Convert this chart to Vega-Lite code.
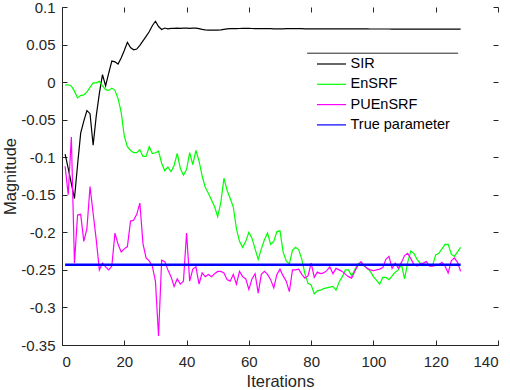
{
  "$schema": "https://vega.github.io/schema/vega-lite/v6.json",
  "width": 436,
  "height": 338,
  "autosize": {"type": "none"},
  "padding": {"left": 62, "top": 7, "right": 12, "bottom": 45},
  "config": {
    "view": {"stroke": null},
    "font": "Liberation Sans",
    "axis": {
      "grid": false,
      "domainColor": "#262626",
      "tickColor": "#262626",
      "tickSize": -5,
      "labelColor": "#262626",
      "labelFontSize": 15,
      "titleFontSize": 16.5,
      "titleFontWeight": "normal",
      "titleColor": "#262626"
    }
  },
  "datasets": {
    "series": [
      {"i":1,"s":"SIR","v":-0.096},{"i":2,"s":"SIR","v":-0.115},{"i":3,"s":"SIR","v":-0.135},{"i":4,"s":"SIR","v":-0.155},{"i":5,"s":"SIR","v":-0.110},
      {"i":6,"s":"SIR","v":-0.068},{"i":7,"s":"SIR","v":-0.052},{"i":8,"s":"SIR","v":-0.038},{"i":9,"s":"SIR","v":-0.042},{"i":10,"s":"SIR","v":-0.084},
      {"i":11,"s":"SIR","v":-0.045},{"i":12,"s":"SIR","v":-0.015},{"i":13,"s":"SIR","v":0.010},{"i":14,"s":"SIR","v":-0.005},{"i":15,"s":"SIR","v":0.012},
      {"i":16,"s":"SIR","v":0.028},{"i":17,"s":"SIR","v":0.027},{"i":18,"s":"SIR","v":0.024},{"i":19,"s":"SIR","v":0.032},{"i":20,"s":"SIR","v":0.042},
      {"i":21,"s":"SIR","v":0.053},{"i":22,"s":"SIR","v":0.046},{"i":23,"s":"SIR","v":0.043},{"i":24,"s":"SIR","v":0.044},{"i":25,"s":"SIR","v":0.049},
      {"i":26,"s":"SIR","v":0.055},{"i":27,"s":"SIR","v":0.061},{"i":28,"s":"SIR","v":0.067},{"i":29,"s":"SIR","v":0.075},{"i":30,"s":"SIR","v":0.081},
      {"i":31,"s":"SIR","v":0.074},{"i":32,"s":"SIR","v":0.070},{"i":33,"s":"SIR","v":0.072},{"i":34,"s":"SIR","v":0.071},{"i":35,"s":"SIR","v":0.0715},
      {"i":36,"s":"SIR","v":0.0715},{"i":37,"s":"SIR","v":0.072},{"i":38,"s":"SIR","v":0.0715},{"i":39,"s":"SIR","v":0.072},{"i":40,"s":"SIR","v":0.072},
      {"i":41,"s":"SIR","v":0.0715},{"i":42,"s":"SIR","v":0.072},{"i":43,"s":"SIR","v":0.0718},{"i":44,"s":"SIR","v":0.0712},{"i":45,"s":"SIR","v":0.0702},
      {"i":46,"s":"SIR","v":0.0695},{"i":47,"s":"SIR","v":0.0692},{"i":48,"s":"SIR","v":0.0692},{"i":49,"s":"SIR","v":0.0692},{"i":50,"s":"SIR","v":0.0693},
      {"i":51,"s":"SIR","v":0.0696},{"i":52,"s":"SIR","v":0.0702},{"i":53,"s":"SIR","v":0.0708},{"i":54,"s":"SIR","v":0.0712},{"i":55,"s":"SIR","v":0.0712},
      {"i":56,"s":"SIR","v":0.0713},{"i":57,"s":"SIR","v":0.0714},{"i":58,"s":"SIR","v":0.0715},{"i":59,"s":"SIR","v":0.0715},{"i":60,"s":"SIR","v":0.0715},
      {"i":61,"s":"SIR","v":0.0714},{"i":62,"s":"SIR","v":0.0713},{"i":63,"s":"SIR","v":0.0712},{"i":64,"s":"SIR","v":0.0712},{"i":65,"s":"SIR","v":0.0711},
      {"i":66,"s":"SIR","v":0.0711},{"i":67,"s":"SIR","v":0.0711},{"i":68,"s":"SIR","v":0.071},{"i":69,"s":"SIR","v":0.071},{"i":70,"s":"SIR","v":0.071},
      {"i":71,"s":"SIR","v":0.071},{"i":72,"s":"SIR","v":0.0711},{"i":73,"s":"SIR","v":0.0712},{"i":74,"s":"SIR","v":0.0712},{"i":75,"s":"SIR","v":0.0712},
      {"i":76,"s":"SIR","v":0.0711},{"i":77,"s":"SIR","v":0.0711},{"i":78,"s":"SIR","v":0.071},{"i":79,"s":"SIR","v":0.071},{"i":80,"s":"SIR","v":0.071},
      {"i":81,"s":"SIR","v":0.071},{"i":82,"s":"SIR","v":0.071},{"i":83,"s":"SIR","v":0.0709},{"i":84,"s":"SIR","v":0.0709},{"i":85,"s":"SIR","v":0.0709},
      {"i":86,"s":"SIR","v":0.0709},{"i":87,"s":"SIR","v":0.071},{"i":88,"s":"SIR","v":0.071},{"i":89,"s":"SIR","v":0.071},{"i":90,"s":"SIR","v":0.071},
      {"i":91,"s":"SIR","v":0.0709},{"i":92,"s":"SIR","v":0.0709},{"i":93,"s":"SIR","v":0.0708},{"i":94,"s":"SIR","v":0.0708},{"i":95,"s":"SIR","v":0.0708},
      {"i":96,"s":"SIR","v":0.0708},{"i":97,"s":"SIR","v":0.0708},{"i":98,"s":"SIR","v":0.0708},{"i":99,"s":"SIR","v":0.0707},{"i":100,"s":"SIR","v":0.0707},
      {"i":101,"s":"SIR","v":0.0707},{"i":102,"s":"SIR","v":0.0707},{"i":103,"s":"SIR","v":0.0707},{"i":104,"s":"SIR","v":0.0707},{"i":105,"s":"SIR","v":0.0707},
      {"i":106,"s":"SIR","v":0.0706},{"i":107,"s":"SIR","v":0.0706},{"i":108,"s":"SIR","v":0.0706},{"i":109,"s":"SIR","v":0.0706},{"i":110,"s":"SIR","v":0.0706},
      {"i":111,"s":"SIR","v":0.0706},{"i":112,"s":"SIR","v":0.0706},{"i":113,"s":"SIR","v":0.0706},{"i":114,"s":"SIR","v":0.0706},{"i":115,"s":"SIR","v":0.0705},
      {"i":116,"s":"SIR","v":0.0705},{"i":117,"s":"SIR","v":0.0705},{"i":118,"s":"SIR","v":0.0705},{"i":119,"s":"SIR","v":0.0705},{"i":120,"s":"SIR","v":0.0705},
      {"i":121,"s":"SIR","v":0.0705},{"i":122,"s":"SIR","v":0.0705},{"i":123,"s":"SIR","v":0.0705},{"i":124,"s":"SIR","v":0.0705},{"i":125,"s":"SIR","v":0.0705},
      {"i":126,"s":"SIR","v":0.0705},{"i":127,"s":"SIR","v":0.0705},{"i":128,"s":"SIR","v":0.0705},

      {"i":1,"s":"EnSRF","v":-0.004},{"i":2,"s":"EnSRF","v":-0.0035},{"i":3,"s":"EnSRF","v":-0.005},{"i":4,"s":"EnSRF","v":-0.012},{"i":5,"s":"EnSRF","v":-0.021},
      {"i":6,"s":"EnSRF","v":-0.018},{"i":7,"s":"EnSRF","v":-0.017},{"i":8,"s":"EnSRF","v":-0.013},{"i":9,"s":"EnSRF","v":-0.007},{"i":10,"s":"EnSRF","v":-0.001},
      {"i":11,"s":"EnSRF","v":-0.001},{"i":12,"s":"EnSRF","v":0.001},{"i":13,"s":"EnSRF","v":-0.005},{"i":14,"s":"EnSRF","v":-0.010},{"i":15,"s":"EnSRF","v":-0.011},
      {"i":16,"s":"EnSRF","v":-0.008},{"i":17,"s":"EnSRF","v":-0.011},{"i":18,"s":"EnSRF","v":-0.022},{"i":19,"s":"EnSRF","v":-0.040},{"i":20,"s":"EnSRF","v":-0.072},
      {"i":21,"s":"EnSRF","v":-0.086},{"i":22,"s":"EnSRF","v":-0.091},{"i":23,"s":"EnSRF","v":-0.094},{"i":24,"s":"EnSRF","v":-0.094},{"i":25,"s":"EnSRF","v":-0.090},
      {"i":26,"s":"EnSRF","v":-0.099},{"i":27,"s":"EnSRF","v":-0.099},{"i":28,"s":"EnSRF","v":-0.086},{"i":29,"s":"EnSRF","v":-0.095},{"i":30,"s":"EnSRF","v":-0.094},
      {"i":31,"s":"EnSRF","v":-0.092},{"i":32,"s":"EnSRF","v":-0.108},{"i":33,"s":"EnSRF","v":-0.118},{"i":34,"s":"EnSRF","v":-0.113},{"i":35,"s":"EnSRF","v":-0.119},
      {"i":36,"s":"EnSRF","v":-0.111},{"i":37,"s":"EnSRF","v":-0.095},{"i":38,"s":"EnSRF","v":-0.115},{"i":39,"s":"EnSRF","v":-0.124},{"i":40,"s":"EnSRF","v":-0.116},
      {"i":41,"s":"EnSRF","v":-0.094},{"i":42,"s":"EnSRF","v":-0.110},{"i":43,"s":"EnSRF","v":-0.091},{"i":44,"s":"EnSRF","v":-0.105},{"i":45,"s":"EnSRF","v":-0.125},
      {"i":46,"s":"EnSRF","v":-0.140},{"i":47,"s":"EnSRF","v":-0.148},{"i":48,"s":"EnSRF","v":-0.157},{"i":49,"s":"EnSRF","v":-0.166},{"i":50,"s":"EnSRF","v":-0.179},
      {"i":51,"s":"EnSRF","v":-0.160},{"i":52,"s":"EnSRF","v":-0.128},{"i":53,"s":"EnSRF","v":-0.144},{"i":54,"s":"EnSRF","v":-0.155},{"i":55,"s":"EnSRF","v":-0.166},
      {"i":56,"s":"EnSRF","v":-0.195},{"i":57,"s":"EnSRF","v":-0.212},{"i":58,"s":"EnSRF","v":-0.220},{"i":59,"s":"EnSRF","v":-0.212},{"i":60,"s":"EnSRF","v":-0.200},
      {"i":61,"s":"EnSRF","v":-0.208},{"i":62,"s":"EnSRF","v":-0.222},{"i":63,"s":"EnSRF","v":-0.236},{"i":64,"s":"EnSRF","v":-0.222},{"i":65,"s":"EnSRF","v":-0.210},
      {"i":66,"s":"EnSRF","v":-0.201},{"i":67,"s":"EnSRF","v":-0.216},{"i":68,"s":"EnSRF","v":-0.212},{"i":69,"s":"EnSRF","v":-0.199},{"i":70,"s":"EnSRF","v":-0.198},
      {"i":71,"s":"EnSRF","v":-0.226},{"i":72,"s":"EnSRF","v":-0.238},{"i":73,"s":"EnSRF","v":-0.242},{"i":74,"s":"EnSRF","v":-0.224},{"i":75,"s":"EnSRF","v":-0.220},
      {"i":76,"s":"EnSRF","v":-0.223},{"i":77,"s":"EnSRF","v":-0.236},{"i":78,"s":"EnSRF","v":-0.255},{"i":79,"s":"EnSRF","v":-0.268},{"i":80,"s":"EnSRF","v":-0.270},
      {"i":81,"s":"EnSRF","v":-0.282},{"i":82,"s":"EnSRF","v":-0.278},{"i":83,"s":"EnSRF","v":-0.277},{"i":84,"s":"EnSRF","v":-0.275},{"i":85,"s":"EnSRF","v":-0.274},
      {"i":86,"s":"EnSRF","v":-0.273},{"i":87,"s":"EnSRF","v":-0.272},{"i":88,"s":"EnSRF","v":-0.277},{"i":89,"s":"EnSRF","v":-0.266},{"i":90,"s":"EnSRF","v":-0.259},
      {"i":91,"s":"EnSRF","v":-0.250},{"i":92,"s":"EnSRF","v":-0.250},{"i":93,"s":"EnSRF","v":-0.258},{"i":94,"s":"EnSRF","v":-0.250},{"i":95,"s":"EnSRF","v":-0.242},
      {"i":96,"s":"EnSRF","v":-0.240},{"i":97,"s":"EnSRF","v":-0.245},{"i":98,"s":"EnSRF","v":-0.248},{"i":99,"s":"EnSRF","v":-0.252},{"i":100,"s":"EnSRF","v":-0.259},
      {"i":101,"s":"EnSRF","v":-0.264},{"i":102,"s":"EnSRF","v":-0.269},{"i":103,"s":"EnSRF","v":-0.260},{"i":104,"s":"EnSRF","v":-0.260},{"i":105,"s":"EnSRF","v":-0.263},
      {"i":106,"s":"EnSRF","v":-0.258},{"i":107,"s":"EnSRF","v":-0.253},{"i":108,"s":"EnSRF","v":-0.250},{"i":109,"s":"EnSRF","v":-0.243},{"i":110,"s":"EnSRF","v":-0.262},
      {"i":111,"s":"EnSRF","v":-0.240},{"i":112,"s":"EnSRF","v":-0.225},{"i":113,"s":"EnSRF","v":-0.228},{"i":114,"s":"EnSRF","v":-0.236},{"i":115,"s":"EnSRF","v":-0.241},
      {"i":116,"s":"EnSRF","v":-0.242},{"i":117,"s":"EnSRF","v":-0.243},{"i":118,"s":"EnSRF","v":-0.243},{"i":119,"s":"EnSRF","v":-0.244},{"i":120,"s":"EnSRF","v":-0.230},
      {"i":121,"s":"EnSRF","v":-0.228},{"i":122,"s":"EnSRF","v":-0.222},{"i":123,"s":"EnSRF","v":-0.216},{"i":124,"s":"EnSRF","v":-0.216},{"i":125,"s":"EnSRF","v":-0.229},
      {"i":126,"s":"EnSRF","v":-0.232},{"i":127,"s":"EnSRF","v":-0.226},{"i":128,"s":"EnSRF","v":-0.220},

      {"i":1,"s":"PUEnSRF","v":-0.112},{"i":2,"s":"PUEnSRF","v":-0.150},{"i":3,"s":"PUEnSRF","v":-0.073},{"i":4,"s":"PUEnSRF","v":-0.241},{"i":5,"s":"PUEnSRF","v":-0.177},
      {"i":6,"s":"PUEnSRF","v":-0.176},{"i":7,"s":"PUEnSRF","v":-0.212},{"i":8,"s":"PUEnSRF","v":-0.195},{"i":9,"s":"PUEnSRF","v":-0.139},{"i":10,"s":"PUEnSRF","v":-0.175},
      {"i":11,"s":"PUEnSRF","v":-0.210},{"i":12,"s":"PUEnSRF","v":-0.250},{"i":13,"s":"PUEnSRF","v":-0.241},{"i":14,"s":"PUEnSRF","v":-0.246},{"i":15,"s":"PUEnSRF","v":-0.250},
      {"i":16,"s":"PUEnSRF","v":-0.245},{"i":17,"s":"PUEnSRF","v":-0.201},{"i":18,"s":"PUEnSRF","v":-0.216},{"i":19,"s":"PUEnSRF","v":-0.226},{"i":20,"s":"PUEnSRF","v":-0.222},
      {"i":21,"s":"PUEnSRF","v":-0.219},{"i":22,"s":"PUEnSRF","v":-0.185},{"i":23,"s":"PUEnSRF","v":-0.184},{"i":24,"s":"PUEnSRF","v":-0.176},{"i":25,"s":"PUEnSRF","v":-0.161},
      {"i":26,"s":"PUEnSRF","v":-0.215},{"i":27,"s":"PUEnSRF","v":-0.234},{"i":28,"s":"PUEnSRF","v":-0.238},{"i":29,"s":"PUEnSRF","v":-0.245},{"i":30,"s":"PUEnSRF","v":-0.265},
      {"i":31,"s":"PUEnSRF","v":-0.338},{"i":32,"s":"PUEnSRF","v":-0.237},{"i":33,"s":"PUEnSRF","v":-0.239},{"i":34,"s":"PUEnSRF","v":-0.250},{"i":35,"s":"PUEnSRF","v":-0.259},
      {"i":36,"s":"PUEnSRF","v":-0.272},{"i":37,"s":"PUEnSRF","v":-0.262},{"i":38,"s":"PUEnSRF","v":-0.269},{"i":39,"s":"PUEnSRF","v":-0.265},{"i":40,"s":"PUEnSRF","v":-0.201},
      {"i":41,"s":"PUEnSRF","v":-0.265},{"i":42,"s":"PUEnSRF","v":-0.249},{"i":43,"s":"PUEnSRF","v":-0.246},{"i":44,"s":"PUEnSRF","v":-0.269},{"i":45,"s":"PUEnSRF","v":-0.254},
      {"i":46,"s":"PUEnSRF","v":-0.259},{"i":47,"s":"PUEnSRF","v":-0.256},{"i":48,"s":"PUEnSRF","v":-0.259},{"i":49,"s":"PUEnSRF","v":-0.255},{"i":50,"s":"PUEnSRF","v":-0.252},
      {"i":51,"s":"PUEnSRF","v":-0.252},{"i":52,"s":"PUEnSRF","v":-0.254},{"i":53,"s":"PUEnSRF","v":-0.263},{"i":54,"s":"PUEnSRF","v":-0.265},{"i":55,"s":"PUEnSRF","v":-0.256},
      {"i":56,"s":"PUEnSRF","v":-0.269},{"i":57,"s":"PUEnSRF","v":-0.252},{"i":58,"s":"PUEnSRF","v":-0.259},{"i":59,"s":"PUEnSRF","v":-0.262},{"i":60,"s":"PUEnSRF","v":-0.276},
      {"i":61,"s":"PUEnSRF","v":-0.262},{"i":62,"s":"PUEnSRF","v":-0.255},{"i":63,"s":"PUEnSRF","v":-0.281},{"i":64,"s":"PUEnSRF","v":-0.256},{"i":65,"s":"PUEnSRF","v":-0.252},
      {"i":66,"s":"PUEnSRF","v":-0.256},{"i":67,"s":"PUEnSRF","v":-0.263},{"i":68,"s":"PUEnSRF","v":-0.274},{"i":69,"s":"PUEnSRF","v":-0.256},{"i":70,"s":"PUEnSRF","v":-0.249},
      {"i":71,"s":"PUEnSRF","v":-0.258},{"i":72,"s":"PUEnSRF","v":-0.265},{"i":73,"s":"PUEnSRF","v":-0.279},{"i":74,"s":"PUEnSRF","v":-0.250},{"i":75,"s":"PUEnSRF","v":-0.250},
      {"i":76,"s":"PUEnSRF","v":-0.249},{"i":77,"s":"PUEnSRF","v":-0.256},{"i":78,"s":"PUEnSRF","v":-0.261},{"i":79,"s":"PUEnSRF","v":-0.258},{"i":80,"s":"PUEnSRF","v":-0.241},
      {"i":81,"s":"PUEnSRF","v":-0.260},{"i":82,"s":"PUEnSRF","v":-0.253},{"i":83,"s":"PUEnSRF","v":-0.255},{"i":84,"s":"PUEnSRF","v":-0.254},{"i":85,"s":"PUEnSRF","v":-0.251},
      {"i":86,"s":"PUEnSRF","v":-0.246},{"i":87,"s":"PUEnSRF","v":-0.255},{"i":88,"s":"PUEnSRF","v":-0.248},{"i":89,"s":"PUEnSRF","v":-0.250},{"i":90,"s":"PUEnSRF","v":-0.252},
      {"i":91,"s":"PUEnSRF","v":-0.256},{"i":92,"s":"PUEnSRF","v":-0.259},{"i":93,"s":"PUEnSRF","v":-0.261},{"i":94,"s":"PUEnSRF","v":-0.252},{"i":95,"s":"PUEnSRF","v":-0.244},
      {"i":96,"s":"PUEnSRF","v":-0.239},{"i":97,"s":"PUEnSRF","v":-0.244},{"i":98,"s":"PUEnSRF","v":-0.248},{"i":99,"s":"PUEnSRF","v":-0.250},{"i":100,"s":"PUEnSRF","v":-0.251},
      {"i":101,"s":"PUEnSRF","v":-0.250},{"i":102,"s":"PUEnSRF","v":-0.249},{"i":103,"s":"PUEnSRF","v":-0.247},{"i":104,"s":"PUEnSRF","v":-0.236},{"i":105,"s":"PUEnSRF","v":-0.232},
      {"i":106,"s":"PUEnSRF","v":-0.248},{"i":107,"s":"PUEnSRF","v":-0.241},{"i":108,"s":"PUEnSRF","v":-0.248},{"i":109,"s":"PUEnSRF","v":-0.240},{"i":110,"s":"PUEnSRF","v":-0.231},
      {"i":111,"s":"PUEnSRF","v":-0.228},{"i":112,"s":"PUEnSRF","v":-0.235},{"i":113,"s":"PUEnSRF","v":-0.243},{"i":114,"s":"PUEnSRF","v":-0.245},{"i":115,"s":"PUEnSRF","v":-0.242},
      {"i":116,"s":"PUEnSRF","v":-0.241},{"i":117,"s":"PUEnSRF","v":-0.239},{"i":118,"s":"PUEnSRF","v":-0.245},{"i":119,"s":"PUEnSRF","v":-0.245},{"i":120,"s":"PUEnSRF","v":-0.244},
      {"i":121,"s":"PUEnSRF","v":-0.243},{"i":122,"s":"PUEnSRF","v":-0.240},{"i":123,"s":"PUEnSRF","v":-0.245},{"i":124,"s":"PUEnSRF","v":-0.254},{"i":125,"s":"PUEnSRF","v":-0.238},
      {"i":126,"s":"PUEnSRF","v":-0.234},{"i":127,"s":"PUEnSRF","v":-0.240},{"i":128,"s":"PUEnSRF","v":-0.252}
    ],
    "truth": [
      {"i":1,"s":"True parameter","v":-0.2432},
      {"i":128,"s":"True parameter","v":-0.2432}
    ],
    "legendline": [
      {"x1":78.7,"x2":127.2,"y":0.0385}
    ]
  },
  "layer": [
    {
      "data": {"name": "series"},
      "mark": {"type": "line", "strokeWidth": 1.2, "clip": true},
      "encoding": {
        "x": {"field": "i", "type": "quantitative",
              "scale": {"domain": [0, 140], "nice": false, "zero": false},
              "axis": {"orient": "bottom", "title": "Iterations", "values": [0,20,40,60,80,100,120,140], "labelPadding": 14, "titlePadding": 4}},
        "y": {"field": "v", "type": "quantitative",
              "scale": {"domain": [-0.35, 0.1], "nice": false, "zero": false},
              "axis": {"orient": "left", "title": "Magnitude", "values": [-0.35,-0.3,-0.25,-0.2,-0.15,-0.1,-0.05,0,0.05,0.1], "labelExpr": "toString(datum.value)", "labelPadding": 12, "titlePadding": 2}},
        "color": {"field": "s", "type": "nominal",
                  "scale": {"domain": ["SIR", "EnSRF", "PUEnSRF", "True parameter"], "range": ["#000000", "#00ff00", "#ff00ff", "#0000ff"]},
                  "legend": {"orient": "none", "legendX": 258.5, "legendY": 46, "title": null,
                             "symbolType": "M-1.45,0H1.45", "symbolSize": 400, "symbolStrokeWidth": 1.2,
                             "labelFontSize": 14.5, "labelColor": "#000000", "labelOffset": 8, "rowPadding": 2.3}},
        "order": {"field": "i", "type": "quantitative"}
      }
    },
    {
      "data": {"name": "truth"},
      "mark": {"type": "line", "strokeWidth": 2.4},
      "encoding": {
        "x": {"field": "i", "type": "quantitative", "axis": null},
        "y": {"field": "v", "type": "quantitative", "axis": null},
        "color": {"field": "s", "type": "nominal"}
      }
    },
    {
      "data": {"name": "legendline"},
      "mark": {"type": "rule", "color": "#262626", "strokeWidth": 1},
      "encoding": {
        "x": {"field": "x1", "type": "quantitative",
              "axis": {"orient": "top", "labels": false, "domain": false, "title": null, "values": [0,20,40,60,80,100,120,140]}},
        "x2": {"field": "x2"},
        "y": {"field": "y", "type": "quantitative",
              "axis": {"orient": "right", "labels": false, "domain": false, "title": null, "values": [-0.35,-0.3,-0.25,-0.2,-0.15,-0.1,-0.05,0,0.05,0.1]}}
      }
    }
  ],
  "resolve": {"axis": {"x": "independent", "y": "independent"}}
}
